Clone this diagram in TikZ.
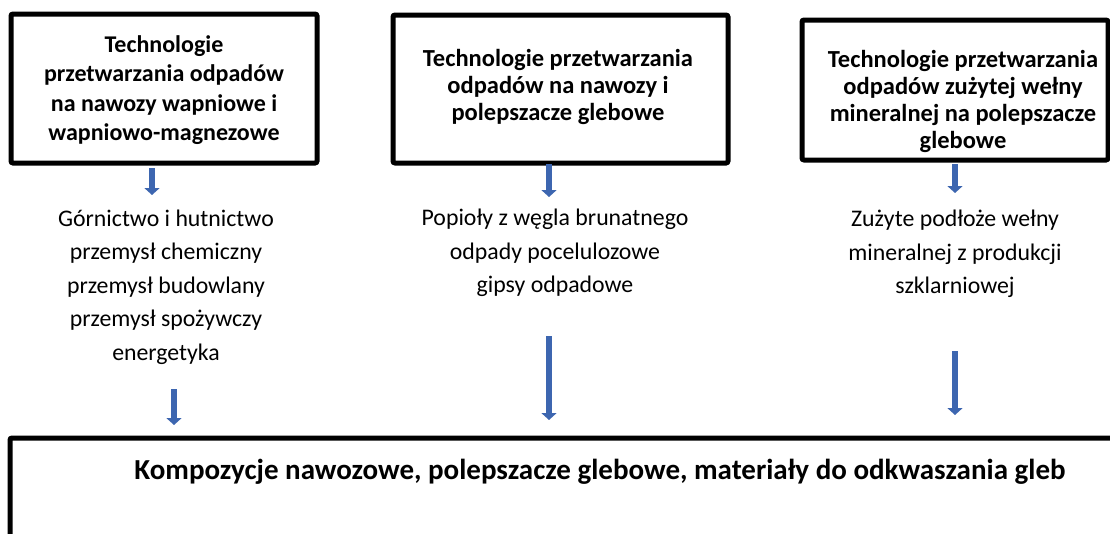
\documentclass[tikz,border=0pt]{standalone}
\usepackage{fontspec}
\setmainfont{Carlito}
\usetikzlibrary{arrows.meta}
\definecolor{arrowblue}{HTML}{3D66B0}
\tikzset{
  techbox/.style={draw=black, line width=5pt, rounded corners=2pt},
  techtext/.style={align=center, font=\fontsize{24.5}{27}\selectfont\bfseries, inner sep=0pt},
  srctext/.style={align=center, font=\fontsize{23.8}{33.5}\selectfont, inner sep=0pt},
  blockarrow/.style={draw=arrowblue, line width=6pt, -{Triangle[width=15pt,length=7pt]}},
}
\begin{document}
\begin{tikzpicture}[x=1pt,y=-1pt]
\useasboundingbox (0,0) rectangle (1110,533);
\clip (0,0) rectangle (1110,533);
\fill[white] (0,0) rectangle (1110,533);
% top boxes
\node[techtext, font=\fontsize{24}{29.5}\selectfont\bfseries] (t1) at (164,90) {Technologie\\przetwarzania odpadów\\na nawozy wapniowe i\\wapniowo-magnezowe};
\draw[techbox] (11,14) rectangle (317,163);
\node[techtext] (t2) at (558,87) {Technologie przetwarzania\\odpadów na nawozy i\\polepszacze glebowe};
\draw[techbox] (393,15) rectangle (728,163);
\begin{scope}
\clip (802,20) rectangle (1108,160);
\node[techtext] (t3) at (963,101) {Technologie przetwarzania\\odpadów zużytej wełny\\mineralnej na polepszacze\\glebowe};
\end{scope}
\draw[techbox] (802,20) rectangle (1108,160);
% source texts
\node[srctext] (s1) at (166,287) {Górnictwo i hutnictwo\\przemysł chemiczny\\przemysł budowlany\\przemysł spożywczy\\energetyka};
\node[srctext] (s2) at (555,253) {Popioły z węgla brunatnego\\odpady pocelulozowe\\gipsy odpadowe};
\node[srctext] (s3) at (955,254) {Zużyte podłoże wełny\\mineralnej z produkcji\\szklarniowej};
% bottom box
\draw[techbox] (10,438) rectangle (1130,560);
\node[font=\fontsize{29}{34}\selectfont\bfseries, inner sep=0pt] (res) at (600,472) {Kompozycje nawozowe, polepszacze glebowe, materiały do odkwaszania gleb};
% arrows
\coordinate (a1a) at (152,168); \coordinate (a1b) at (152,195);
\coordinate (a2a) at (549,164); \coordinate (a2b) at (549,197);
\coordinate (a3a) at (955,164); \coordinate (a3b) at (955,193);
\coordinate (c1a) at (174,389); \coordinate (c1b) at (174,425);
\coordinate (c2a) at (549,336); \coordinate (c2b) at (549,420);
\coordinate (c3a) at (955,351); \coordinate (c3b) at (955,415);
\draw[blockarrow] (a1a) -- (a1b);
\draw[blockarrow] (a2a) -- (a2b);
\draw[blockarrow] (a3a) -- (a3b);
\draw[blockarrow] (c1a) -- (c1b);
\draw[blockarrow] (c2a) -- (c2b);
\draw[blockarrow] (c3a) -- (c3b);
\end{tikzpicture}
\end{document}
